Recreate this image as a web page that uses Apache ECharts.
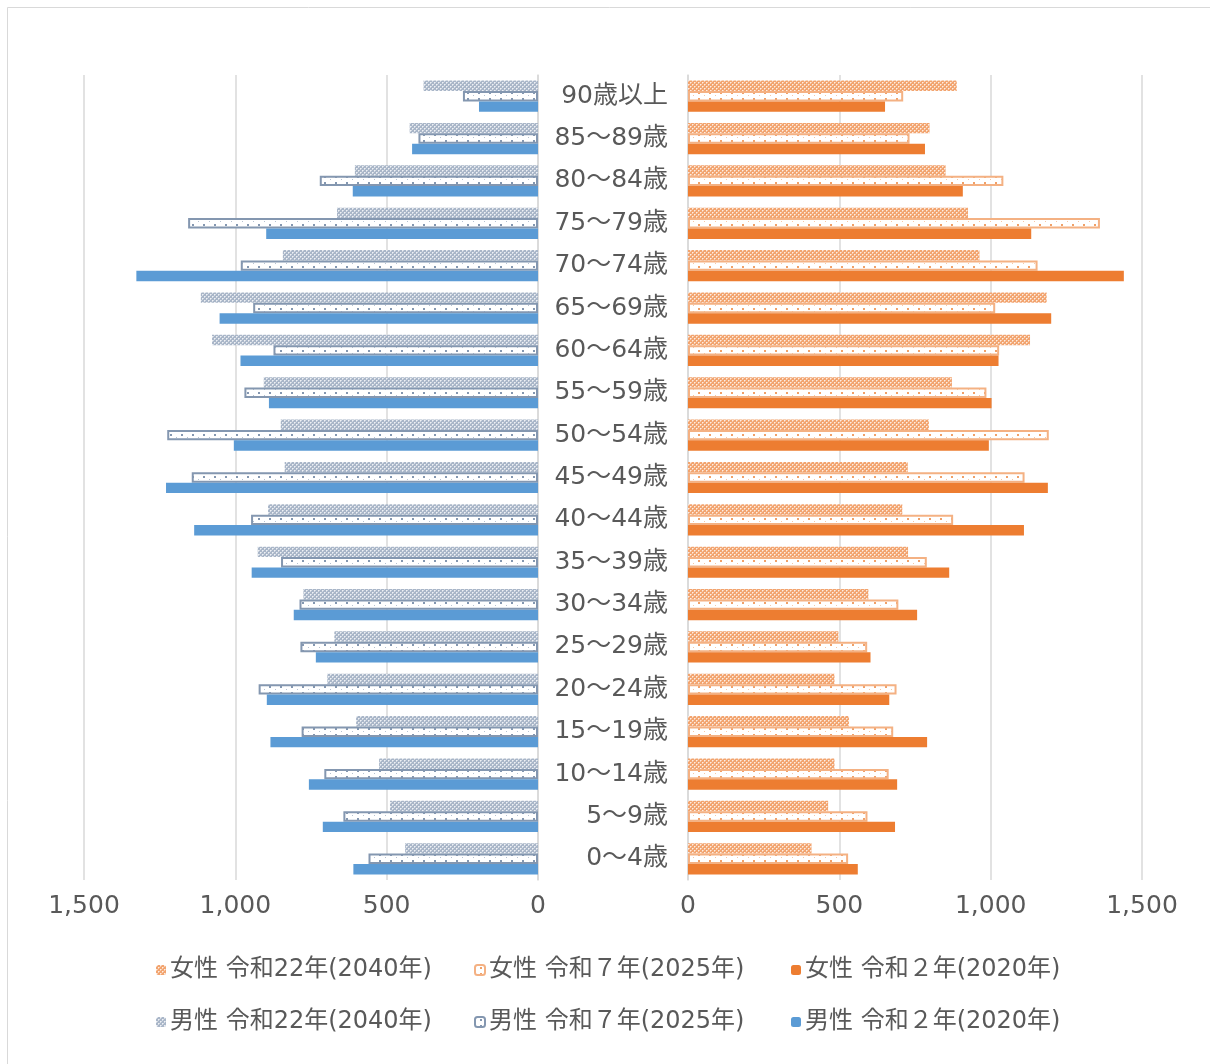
<!DOCTYPE html>
<html>
<head>
<meta charset="utf-8">
<script src="https://cdn.jsdelivr.net/npm/echarts@6/dist/echarts.min.js"></script>
<style>
  html, body { margin: 0; padding: 0; background: #ffffff; }
  #chart { width: 1210px; height: 1064px; }
</style>
</head>
<body>
<div id="chart"></div>
<script>
// Age groups, listed from the oldest (top) to the youngest (bottom)
const ageGroups = ['90歳以上', '85～89歳', '80～84歳', '75～79歳', '70～74歳', '65～69歳',
  '60～64歳', '55～59歳', '50～54歳', '45～49歳', '40～44歳', '35～39歳', '30～34歳',
  '25～29歳', '20～24歳', '15～19歳', '10～14歳', '5～9歳', '0～4歳'];

// Male population by age group
const male2040 = [378, 424, 605, 664, 843, 1114, 1077, 906, 850, 837, 892, 926, 775, 673, 696, 601, 525, 489, 439];
const male2025 = [248, 395, 721, 1156, 982, 941, 874, 970, 1225, 1144, 948, 849, 788, 785, 923, 781, 706, 643, 560];
const male2020 = [195, 416, 612, 898, 1327, 1052, 983, 889, 1005, 1229, 1136, 946, 807, 734, 896, 884, 757, 711, 610];

// Female population by age group
const female2040 = [888, 798, 851, 925, 963, 1185, 1130, 872, 796, 726, 708, 727, 596, 497, 484, 532, 484, 463, 408];
const female2025 = [711, 732, 1042, 1361, 1155, 1015, 1028, 986, 1192, 1112, 876, 789, 695, 592, 689, 678, 663, 593, 529];
const female2020 = [651, 783, 908, 1134, 1440, 1200, 1026, 1003, 994, 1189, 1110, 863, 757, 603, 665, 790, 691, 684, 561];

// Axis ticks
const axisMax = 1500;
const axisStep = 500;

// Legend names
const names = {
  f2040: '女性 令和22年(2040年)', f2025: '女性 令和７年(2025年)', f2020: '女性 令和２年(2020年)',
  m2040: '男性 令和22年(2040年)', m2025: '男性 令和７年(2025年)', m2020: '男性 令和２年(2020年)'
};

const FONT = '"DejaVu Sans", "Noto Sans CJK JP", sans-serif';
const TEXT = '#595959';
const GRIDLINE = '#d9d9d9';

// Fine checker fill used for the 2040 projection
function checkerPattern(base, light) {
  const c = document.createElement('canvas');
  c.width = 4; c.height = 4;
  const g = c.getContext('2d');
  g.fillStyle = base; g.fillRect(0, 0, 4, 4);
  g.fillStyle = light;
  g.fillRect(1, 0, 1, 1); g.fillRect(3, 2, 1, 1);
  g.fillRect(0, 1, 1, 1); g.fillRect(2, 3, 1, 1);
  g.fillStyle = 'rgba(255,255,255,0.8)';
  g.fillRect(0, 0, 1, 1); g.fillRect(2, 2, 1, 1);
  return { image: c, repeat: 'repeat' };
}

// Sparse dot fill used for the 2025 projection
function dotPattern(dot) {
  const c = document.createElement('canvas');
  c.width = 11; c.height = 6;
  const g = c.getContext('2d');
  g.fillStyle = '#ffffff'; g.fillRect(0, 0, 11, 6);
  g.fillStyle = dot;
  g.fillRect(5, 2, 2, 2);
  g.globalAlpha = 0.6;
  g.fillRect(0, 5, 1, 1);
  return { image: c, repeat: 'repeat' };
}

const BAR_W = 10.4;

function barSeries(name, data, idx, style) {
  return Object.assign({
    name: name,
    type: 'bar',
    xAxisIndex: idx,
    yAxisIndex: idx,
    data: data,
    barWidth: BAR_W,
    barGap: '0%',
    silent: true
  }, style);
}

function legendAt(name, left, top) {
  return {
    data: [name],
    left: left,
    top: top,
    itemWidth: 10,
    itemHeight: 10,
    itemGap: 0,
    padding: 0,
    selectedMode: false,
    textStyle: { fontFamily: FONT, fontSize: 24, color: TEXT, padding: [0, 0, 0, -1] }
  };
}

function valueAxis(idx, inverse) {
  return {
    type: 'value',
    gridIndex: idx,
    min: 0,
    max: axisMax,
    interval: axisStep,
    inverse: inverse,
    axisLine: { show: false },
    axisTick: { show: false },
    splitLine: { show: true, lineStyle: { color: GRIDLINE, width: 1.5 } },
    axisLabel: {
      margin: 14,
      fontFamily: FONT,
      fontSize: 25,
      color: TEXT,
      formatter: v => v.toLocaleString('en-US')
    }
  };
}

function categoryAxis(idx, showLabels) {
  return {
    type: 'category',
    gridIndex: idx,
    data: ageGroups,
    inverse: true,
    position: showLabels ? 'left' : 'right',
    axisLine: { show: true, lineStyle: { color: GRIDLINE, width: 1.5 } },
    axisTick: { show: false },
    axisLabel: showLabels ? {
      show: true,
      margin: 20,
      padding: [4, 0, 0, 0],
      fontFamily: FONT,
      fontSize: 25,
      color: TEXT
    } : { show: false }
  };
}

const chart = echarts.init(document.getElementById('chart'), null, { renderer: 'canvas' });

chart.setOption({
  animation: false,
  backgroundColor: '#ffffff',
  graphic: [{
    type: 'rect',
    silent: true,
    shape: { x: 7.5, y: 7.5, width: 1220, height: 1080 },
    style: { fill: 'none', stroke: GRIDLINE, lineWidth: 1 }
  }],
  grid: [
    { left: 84, width: 454, top: 75, height: 805 },
    { left: 688, width: 454, top: 75, height: 805 }
  ],
  xAxis: [valueAxis(0, true), valueAxis(1, false)],
  yAxis: [categoryAxis(0, false), categoryAxis(1, true)],
  legend: [
    legendAt(names.f2040, 156, 958),
    legendAt(names.f2025, 474, 958),
    legendAt(names.f2020, 791, 958),
    legendAt(names.m2040, 156, 1010),
    legendAt(names.m2025, 474, 1010),
    legendAt(names.m2020, 791, 1010)
  ],
  series: [
    barSeries(names.m2040, male2040, 0, { itemStyle: { color: checkerPattern('#a9b6c8', '#d3dae4') } }),
    barSeries(names.m2025, male2025, 0, { itemStyle: { color: dotPattern('#8497b0'), borderColor: '#8497b0', borderWidth: 2 } }),
    barSeries(names.m2020, male2020, 0, { itemStyle: { color: '#5b9bd5' } }),
    barSeries(names.f2040, female2040, 1, { itemStyle: { color: checkerPattern('#f2a46f', '#f8cbad') } }),
    barSeries(names.f2025, female2025, 1, { itemStyle: { color: dotPattern('#f0a068'), borderColor: '#f4b183', borderWidth: 2 } }),
    barSeries(names.f2020, female2020, 1, { itemStyle: { color: '#ed7d31' } })
  ]
});
</script>
</body>
</html>
